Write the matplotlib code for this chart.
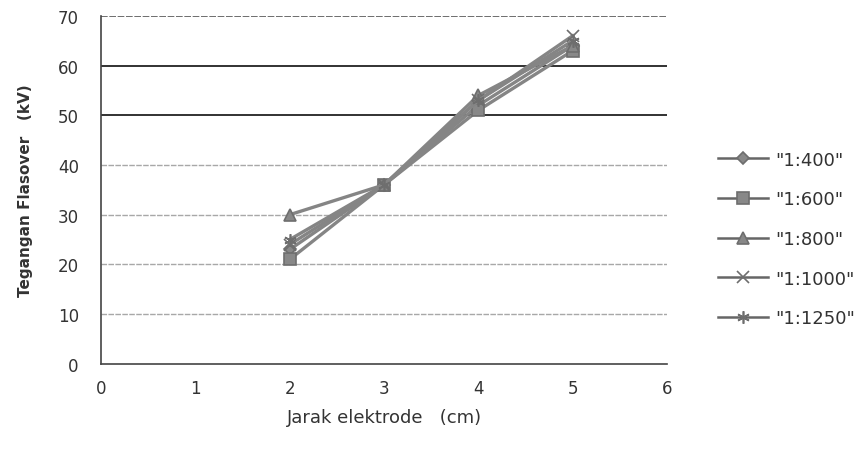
import numpy as np
import matplotlib
matplotlib.use("Agg")
import matplotlib.pyplot as plt

# jarak elektrode (cm) vs tegangan flashover (kV)
jarak = [2, 3, 4, 5]
labels = ['"1:400"', '"1:600"', '"1:800"', '"1:1000"', '"1:1250"']
v_400 = [23, 36, 52, 64]
v_600 = [21, 36, 51, 63]
v_800 = [30, 36, 54, 64]
v_1000 = [24, 36, 53, 66]
v_1250 = [25, 36, 53, 65]
series = [v_400, v_600, v_800, v_1000, v_1250]
markers = ["D", "s", "^", "x", (6, 2, 0)]
msizes = [6, 9, 8, 8, 9]

fig = plt.figure(figsize=(8.64, 4.56), dpi=100)
ax = fig.add_axes([0.117, 0.2, 0.655, 0.763])

for y, lab, m, ms in zip(series, labels, markers, msizes):
    ax.plot(jarak, y, color="#858585", lw=2.4, marker=m, markersize=ms,
            markerfacecolor="#888888", markeredgecolor="#6e6e6e",
            markeredgewidth=1.2, label=lab)

ax.set_xlim(0, 6)
ax.set_ylim(0, 70)
ax.set_xticks(np.arange(0, 7, 1))
ax.set_yticks(np.arange(0, 80, 10))

# horizontal gridlines, the 50 and 60 lines came out darker in the scan
for g in np.arange(10, 80, 10):
    if g in (50, 60):
        ax.axhline(g, color="#222222", lw=1.3, zorder=0)
    elif g == 70:
        ax.axhline(g, color="#555555", lw=1.2, ls=(0, (4, 1)), zorder=0)
    else:
        ax.axhline(g, color="#a8a8a8", lw=1.0, ls=(0, (4, 1)), zorder=0)

for s in ["top", "right"]:
    ax.spines[s].set_visible(False)
ax.spines["left"].set_color("#444444")
ax.spines["bottom"].set_color("#444444")
ax.spines["left"].set_linewidth(1.2)
ax.spines["bottom"].set_linewidth(1.2)

ax.tick_params(axis="both", length=0, labelsize=12, colors="#333333")
ax.tick_params(axis="x", pad=11)
ax.tick_params(axis="y", pad=16)

ax.set_xlabel("Jarak elektrode   (cm)", fontsize=13, color="#333333",
              labelpad=8)
ax.set_ylabel("Tegangan Flasover   (kV)", fontsize=11, color="#333333",
              fontweight="bold", labelpad=18)

leg = fig.legend(loc="center left", bbox_to_anchor=(0.812, 0.474),
                 frameon=False, fontsize=13, labelspacing=1.2,
                 handlelength=2.8, handletextpad=0.4, labelcolor="#333333")
for h in leg.get_lines():
    h.set_linewidth(1.8)
    h.set_color("#666666")

fig.savefig("out.png", dpi=100)
